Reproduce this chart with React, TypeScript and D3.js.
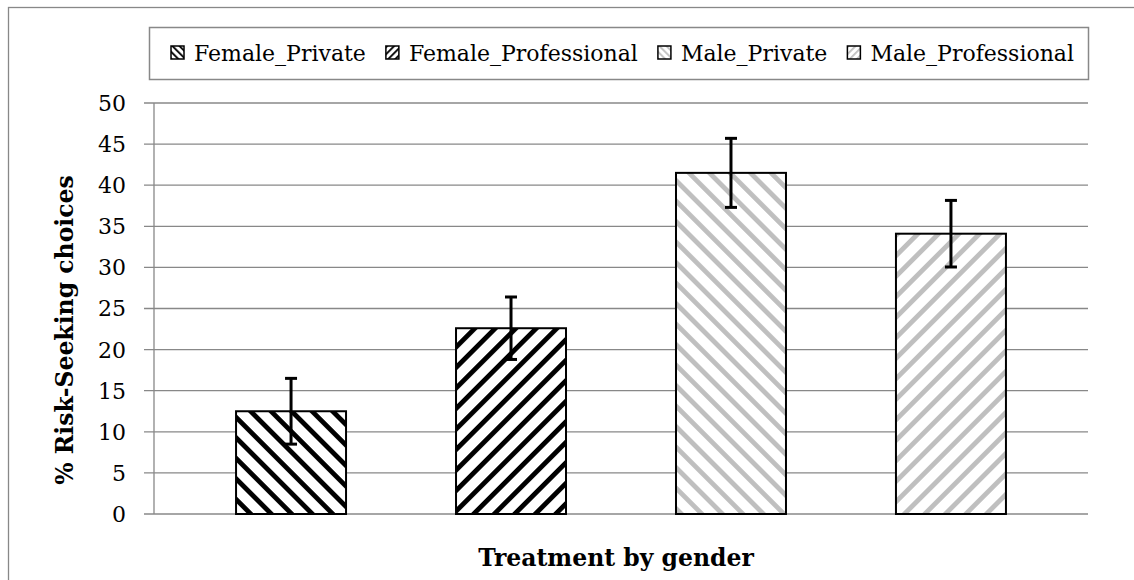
import React, { useEffect, useRef } from "react"
import * as d3 from "d3"

// data
const seriesNames = ["Female_Private", "Female_Professional", "Male_Private", "Male_Professional"]
const seriesValues = [12.5, 22.6, 41.5, 34.1]
const seriesErrors = [4.0, 3.8, 4.2, 4.05]
const yTicks = [0, 5, 10, 15, 20, 25, 30, 35, 40, 45, 50]
const xTitle = "Treatment by gender"
const yTitle = "% Risk-Seeking choices"

// hatch styles per series
const hatch = {
	Female_Private: { color: "#000000", angle: -45 },
	Female_Professional: { color: "#000000", angle: 45 },
	Male_Private: { color: "#bfbfbf", angle: -45 },
	Male_Professional: { color: "#bfbfbf", angle: 45 },
}

const W = 1134
const H = 580
const FONT = "'DejaVu Serif', 'Liberation Serif', serif"
const GRID = "#888888"

const App = () => {
	const svgRef = useRef(null)

	useEffect(() => {
		const margin = { top: 103, right: 46, bottom: 66, left: 154 }
		const svg = d3.select(svgRef.current)
		svg.selectAll("*").remove()

		const data = seriesNames.map((name, i) => ({
			name,
			value: seriesValues[i],
			err: seriesErrors[i],
		}))

		// Scale
		const x = d3
			.scaleBand()
			.domain(seriesNames)
			.range([margin.left, W - margin.right])
			.paddingInner(0.5)
			.paddingOuter(0.373)
		const y = d3
			.scaleLinear()
			.domain([0, 50])
			.range([H - margin.bottom, margin.top])

		// hatch patterns, big for bars and small for legend keys
		const defs = svg.append("defs")
		const makePattern = (id, color, angle, period, stripe) => {
			const p = defs
				.append("pattern")
				.attr("id", id)
				.attr("patternUnits", "userSpaceOnUse")
				.attr("width", period)
				.attr("height", period)
				.attr("patternTransform", `rotate(${angle})`)
			p.append("rect").attr("width", period).attr("height", period).attr("fill", "#fff")
			p.append("rect").attr("width", stripe).attr("height", period).attr("fill", color)
		}
		seriesNames.forEach((name) => {
			makePattern(`bar-${name}`, hatch[name].color, hatch[name].angle, 14.5, 4.8)
			makePattern(`key-${name}`, hatch[name].color, hatch[name].angle, 5, 1.8)
		})

		// outer chart frame (runs off the picture on right and bottom)
		svg.append("rect")
			.attr("x", 8.5)
			.attr("y", 7.5)
			.attr("width", W + 40)
			.attr("height", H + 40)
			.attr("fill", "none")
			.attr("stroke", GRID)
			.attr("stroke-width", 1.3)

		// gridlines
		svg.append("g")
			.selectAll("line")
			.data(yTicks)
			.join("line")
			.attr("x1", margin.left - 10)
			.attr("x2", W - margin.right)
			.attr("y1", (d) => y(d))
			.attr("y2", (d) => y(d))
			.attr("stroke", GRID)
			.attr("stroke-width", 1.3)

		// y axis
		svg.append("line")
			.attr("x1", margin.left)
			.attr("x2", margin.left)
			.attr("y1", y(50))
			.attr("y2", y(0))
			.attr("stroke", GRID)
			.attr("stroke-width", 1.3)

		svg.append("g")
			.selectAll("text")
			.data(yTicks)
			.join("text")
			.attr("x", margin.left - 28)
			.attr("y", (d) => y(d))
			.attr("dy", "0.36em")
			.attr("text-anchor", "end")
			.attr("font-family", FONT)
			.attr("font-size", 22)
			.attr("fill", "#000")
			.text((d) => d)

		// bars
		svg.append("g")
			.selectAll("rect")
			.data(data)
			.join("rect")
			.attr("x", (d) => x(d.name))
			.attr("width", x.bandwidth())
			.attr("y", (d) => y(d.value))
			.attr("height", (d) => y(0) - y(d.value))
			.attr("fill", (d) => `url(#bar-${d.name})`)
			.attr("stroke", "#000")
			.attr("stroke-width", 2)

		// error bars
		const eb = svg.append("g").attr("stroke", "#000").attr("stroke-width", 3)
		data.forEach((d) => {
			const cx = x(d.name) + x.bandwidth() / 2
			eb.append("line")
				.attr("x1", cx).attr("x2", cx)
				.attr("y1", y(d.value + d.err)).attr("y2", y(d.value - d.err))
			;[d.value + d.err, d.value - d.err].forEach((v) => {
				eb.append("line")
					.attr("x1", cx - 6).attr("x2", cx + 6)
					.attr("y1", y(v)).attr("y2", y(v))
			})
		})

		// axis titles
		svg.append("text")
			.attr("x", 616)
			.attr("y", 558)
			.attr("dy", "0.36em")
			.attr("text-anchor", "middle")
			.attr("font-family", FONT)
			.attr("font-weight", "bold")
			.attr("font-size", 23.5)
			.text(xTitle)

		svg.append("text")
			.attr("transform", "translate(65,330) rotate(-90)")
			.attr("dy", "0.36em")
			.attr("text-anchor", "middle")
			.attr("font-family", FONT)
			.attr("font-weight", "bold")
			.attr("font-size", 23.5)
			.text(yTitle)

		// legend
		const box = { x0: 149, x1: W - margin.right, y0: 27, y1: 79 }
		svg.append("rect")
			.attr("x", box.x0 + 0.5)
			.attr("y", box.y0 + 0.5)
			.attr("width", box.x1 - box.x0)
			.attr("height", box.y1 - box.y0)
			.attr("fill", "#fff")
			.attr("stroke", GRID)
			.attr("stroke-width", 1.5)

		const cy = (box.y0 + box.y1) / 2
		const legend = svg.append("g")
		const items = seriesNames.map((name) => {
			const g = legend.append("g")
			g.append("rect")
				.attr("x", 0)
				.attr("y", -7)
				.attr("width", 13)
				.attr("height", 13)
				.attr("fill", `url(#key-${name})`)
				.attr("stroke", "#000")
				.attr("stroke-width", 1.5)
			const t = g.append("text")
				.attr("x", 23)
				.attr("dy", "0.36em")
				.attr("font-family", FONT)
				.attr("font-size", 22)
				.text(name)
			return { g, w: 23 + t.node().getComputedTextLength() }
		})
		const gap = 20
		const total = d3.sum(items, (d) => d.w) + gap * (items.length - 1)
		let cx = (box.x0 + box.x1) / 2 - total / 2 + 4
		items.forEach((it) => {
			it.g.attr("transform", `translate(${cx},${cy})`)
			cx += it.w + gap
		})
	}, [])

	return (
		<svg
			ref={svgRef}
			width={W}
			height={H}
			style={{ position: "absolute", left: 0, top: 0, background: "#fff" }}
		/>
	)
}

export default App
